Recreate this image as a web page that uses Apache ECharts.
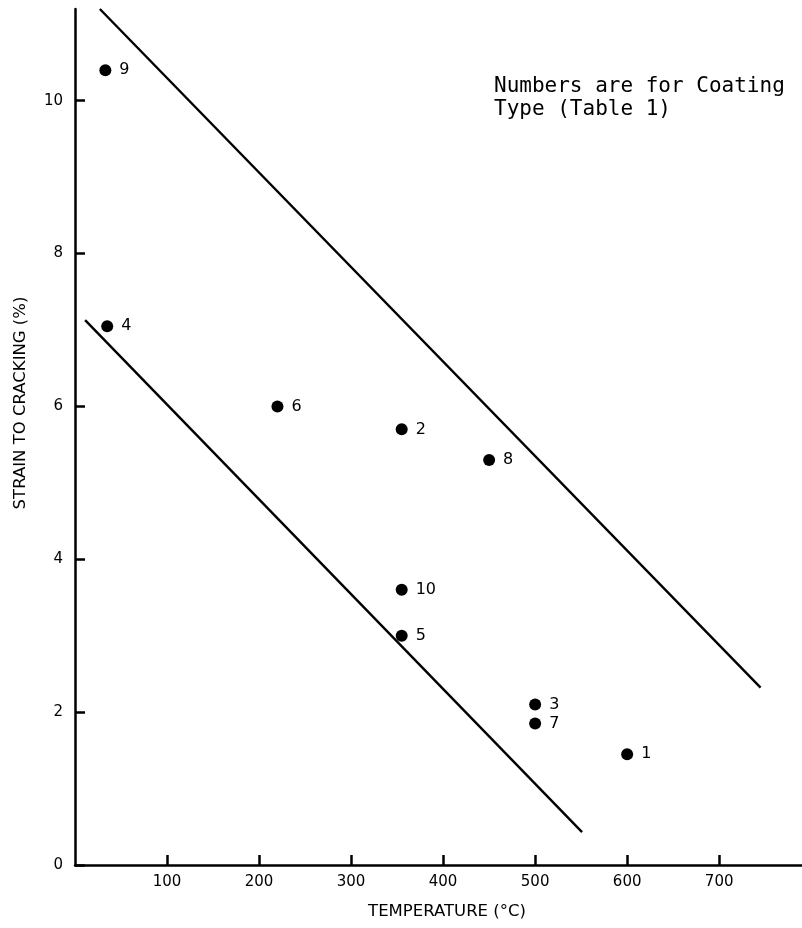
<!DOCTYPE html>
<html>
<head>
<meta charset="utf-8">
<script src="https://cdn.jsdelivr.net/npm/echarts@6/dist/echarts.min.js"></script>
<style>html,body{margin:0;padding:0;background:#fff}#c{width:802px;height:928px}</style>
</head>
<body>
<div id="c"></div>
<script>
// Coating data: temperature (°C), strain to cracking (%), coating type number
var coatingTypes = ['9', '4', '6', '2', '8', '10', '5', '3', '7', '1'];
var temperatures = [33, 35, 220, 355, 450, 355, 355, 500, 500, 600];
var strains = [10.4, 7.05, 6.0, 5.7, 5.3, 3.6, 3.0, 2.1, 1.85, 1.45];
// Boundary lines (endpoints)
var upperLineX = [27, 745];
var upperLineY = [11.2, 2.32];
var lowerLineX = [11, 551];
var lowerLineY = [7.13, 0.43];
var xTicks = [100, 200, 300, 400, 500, 600, 700];
var yTicks = [0, 2, 4, 6, 8, 10];
var noteLines = ['Numbers are for Coating', 'Type (Table 1)'];

var chart = echarts.init(document.getElementById('c'));
var pts = temperatures.map(function (t, i) { return { value: [t, strains[i]], name: coatingTypes[i] }; });
function linePts(xs, ys) { return xs.map(function (x, i) { return [x, ys[i]]; }); }

chart.setOption({
  animation: false,
  backgroundColor: '#fff',
  grid: { left: 75, right: 0, top: 9, bottom: 63 },
  xAxis: {
    type: 'value', min: 0, max: 790, interval: 100,
    axisLine: { lineStyle: { color: '#000', width: 2.5 } },
    axisTick: { inside: true, length: 10, customValues: xTicks, lineStyle: { color: '#000', width: 2.5 } },
    axisLabel: {
      margin: 10, color: '#000', fontFamily: 'DejaVu Sans', fontSize: 15, customValues: xTicks
    },
    splitLine: { show: false }
  },
  yAxis: {
    type: 'value', min: 0, max: 11.2, interval: 2,
    axisLine: { lineStyle: { color: '#000', width: 2.5 } },
    axisTick: { inside: true, length: 10, customValues: yTicks, lineStyle: { color: '#000', width: 2.5 } },
    axisLabel: {
      margin: 12, color: '#000', fontFamily: 'DejaVu Sans', fontSize: 15, customValues: yTicks
    },
    splitLine: { show: false }
  },
  graphic: [
    { type: 'text', x: 447, y: 912, style: { text: 'TEMPERATURE (°C)', fill: '#000', font: '16.5px "DejaVu Sans"', align: 'center', verticalAlign: 'middle' } },
    { type: 'text', x: 21, y: 403, rotation: Math.PI / 2, style: { text: 'STRAIN TO CRACKING (%)', fill: '#000', font: '16.5px "DejaVu Sans"', align: 'center', verticalAlign: 'middle' } },
    { type: 'text', x: 494, y: 87, style: { text: noteLines[0], fill: '#000', font: '21px "DejaVu Sans Mono"', align: 'left', verticalAlign: 'middle' } },
    { type: 'text', x: 494, y: 110, style: { text: noteLines[1], fill: '#000', font: '21px "DejaVu Sans Mono"', align: 'left', verticalAlign: 'middle' } }
  ],
  series: [
    { type: 'line', data: linePts(upperLineX, upperLineY), symbol: 'none', lineStyle: { color: '#000', width: 2.4 } },
    { type: 'line', data: linePts(lowerLineX, lowerLineY), symbol: 'none', lineStyle: { color: '#000', width: 2.4 } },
    {
      type: 'scatter', data: pts, symbolSize: 12, itemStyle: { color: '#000', opacity: 1 },
      label: { show: true, position: 'right', distance: 8, color: '#000', fontFamily: 'DejaVu Sans', fontSize: 16, formatter: function (p) { return p.name; } }
    }
  ]
});
</script>
</body>
</html>
